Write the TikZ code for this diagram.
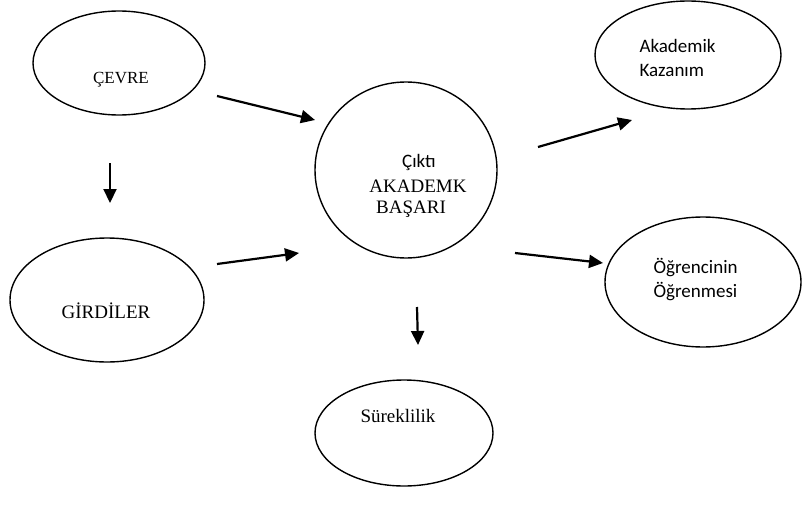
\documentclass[tikz,border=0pt]{standalone}
\usepackage{fontspec}
\usepackage{tikz}
\usetikzlibrary{shapes.geometric,arrows.meta}
\newfontfamily\timesfont{Liberation Serif}
\newfontfamily\calfont{Carlito}

\begin{document}
\begin{tikzpicture}[x=1pt,y=-1pt,
		oval/.style={shape=ellipse,draw=black,line width=1.4pt,inner sep=0pt},
		arr/.style={line width=2.2pt,-{Triangle[length=14pt,width=13pt]}},
		tnr/.style={font=\timesfont\fontsize{19}{23}\selectfont},
		cal/.style={font=\calfont\fontsize{19}{24}\selectfont,align=left,anchor=west}]
		\useasboundingbox (0,0) rectangle (802,508);
		
		\node[oval,minimum width=172pt,minimum height=104pt] (Cevre) at (119,63) {};
		\node[oval,minimum width=182pt,minimum height=176pt] (Cikti) at (406,170) {};
		\node[oval,minimum width=186pt,minimum height=108pt] (Kazanim) at (688,55) {};
		\node[oval,minimum width=196pt,minimum height=130pt] (Ogrenme) at (703,282) {};
		\node[oval,minimum width=194pt,minimum height=124pt] (Girdiler) at (107,300) {};
		\node[oval,minimum width=178pt,minimum height=106pt] (Sureklilik) at (404,433) {};
		
		% arrow ends
		\coordinate (CevreOut) at (217,96);
		\coordinate (CiktiIn1) at (315,120);
		\coordinate (CevreDown) at (110,163);
		\coordinate (GirdilerIn) at (110,203);
		\coordinate (GirdilerOut) at (217,264);
		\coordinate (CiktiIn2) at (299,253);
		\coordinate (CiktiOut1) at (538,147);
		\coordinate (KazanimIn) at (632,120);
		\coordinate (CiktiOut2) at (515,253);
		\coordinate (OgrenmeIn) at (603,263);
		\coordinate (CiktiDown) at (417,307);
		\coordinate (SureklilikIn) at (418,345);
		
		\draw[arr] (CevreOut) -- (CiktiIn1);
		\draw[arr] (CevreDown) -- (GirdilerIn);
		\draw[arr] (GirdilerOut) -- (CiktiIn2);
		\draw[arr] (CiktiOut1) -- (KazanimIn);
		\draw[arr] (CiktiOut2) -- (OgrenmeIn);
		\draw[arr] (CiktiDown) -- (SureklilikIn);
		
		\node[font=\timesfont\fontsize{17}{20}\selectfont] (CevreT) at (121,80) {ÇEVRE};
		\node[font=\calfont\fontsize{19}{23}\selectfont] (CiktiT) at (419,162) {Çıktı};
		\node[tnr] (AkademkT) at (418,186) {AKADEMK};
		\node[tnr] (BasariT) at (411,209) {BAŞARI};
		\node[cal] (KazanimT) at (636,58) {Akademik\\Kazanım};
		\node[cal] (OgrenmeT) at (650,280) {Öğrencinin\\Öğrenmesi};
		\node[tnr] (GirdilerT) at (106,311) {GİRDİLER};
		\node[tnr] (SureklilikT) at (398,416) {Süreklilik};
		
	\end{tikzpicture}
\end{document}
